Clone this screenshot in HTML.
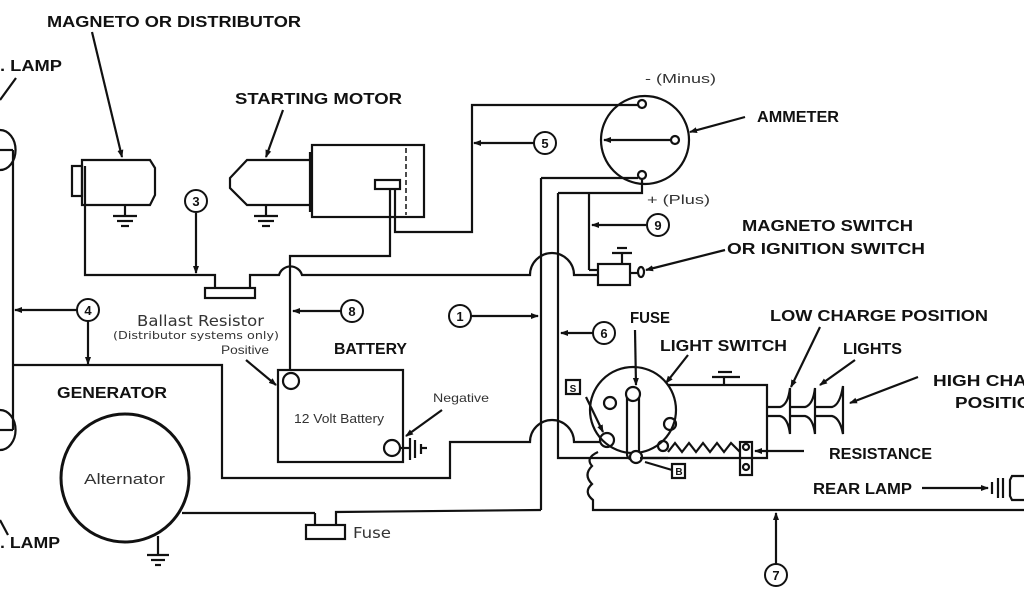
<!DOCTYPE html>
<html><head><meta charset="utf-8"><style>
html,body{margin:0;padding:0;background:#fff;width:1024px;height:600px;overflow:hidden}
svg{display:block}
.b{font-family:"Liberation Sans",sans-serif;font-weight:bold;font-size:16px;fill:#111}
.r{font-family:"Liberation Sans",sans-serif;font-size:13px;fill:#333}
.d{font-family:"DejaVu Sans",sans-serif;font-size:13px;fill:#333}
.n{font-family:"Liberation Sans",sans-serif;font-weight:bold;font-size:13px;fill:#111;text-anchor:middle}
</style></head><body>
<svg width="1024" height="600" viewBox="0 0 1024 600" xmlns="http://www.w3.org/2000/svg">
<defs><marker id="a" markerWidth="8" markerHeight="8" refX="7" refY="4" orient="auto" markerUnits="userSpaceOnUse"><path d="M0,1 L8,4 L0,7z" fill="#111"/></marker></defs>
<g stroke="#111" stroke-width="2.2" fill="none">
<path d="M0,130 A14,18 0 0 1 0,170"/><path d="M0,410 A14,18 0 0 1 0,450"/>
<line x1="13" y1="150" x2="13" y2="430"/><line x1="0" y1="150" x2="13" y2="150"/><line x1="0" y1="430" x2="13" y2="430"/>
<line x1="0" y1="100" x2="16" y2="78"/><line x1="0" y1="520" x2="8" y2="535"/>
<path d="M82,160 L150,160 L155,168 L155,195 L150,205 L82,205 Z"/><rect x="72" y="166" width="10" height="30"/>
<line x1="92" y1="32" x2="122" y2="157" marker-end="url(#a)"/>
<line x1="125" y1="205" x2="125" y2="216"/><line x1="113" y1="216" x2="137" y2="216"/><line x1="117" y1="221" x2="133" y2="221"/><line x1="121" y1="226" x2="129" y2="226"/>
<path d="M310,160 L247,160 L230,178 L230,188 L247,205 L310,205"/><rect x="312" y="145" width="112" height="72"/><line x1="310" y1="152" x2="310" y2="212"/>
<line x1="406" y1="148" x2="406" y2="215" stroke-dasharray="5,3" stroke-width="1.5"/>
<rect x="375" y="180" width="25" height="9"/>
<line x1="283" y1="110" x2="266" y2="157" marker-end="url(#a)"/>
<line x1="266" y1="205" x2="266" y2="216"/><line x1="254" y1="216" x2="278" y2="216"/><line x1="258" y1="221" x2="274" y2="221"/><line x1="262" y1="226" x2="270" y2="226"/>
<path d="M85,166 L85,275 L215,275 L215,288"/><rect x="205" y="288" width="50" height="10"/>
<path d="M250,288 L250,275 L279,275 A12,12 0 0 1 302,275 L530,275 A22,22 0 0 1 574,275 L598,275"/>
<path d="M390,189 L390,256 L290,256 L290,370"/>
<path d="M395,189 L395,232 L472,232 L472,105 L640,105"/>
<line x1="534" y1="143" x2="474" y2="143" marker-end="url(#a)"/>
<circle cx="645" cy="140" r="44"/>
<circle cx="642" cy="104" r="4" fill="#fff"/><circle cx="675" cy="140" r="4" fill="#fff"/><circle cx="642" cy="175" r="4" fill="#fff"/>
<line x1="671" y1="140" x2="604" y2="140" marker-end="url(#a)"/>
<line x1="745" y1="117" x2="690" y2="132" marker-end="url(#a)"/>
<path d="M541,178 L638,178"/><path d="M541,178 L541,510"/>
<path d="M558,193 L642,193 L642,179"/><path d="M558,193 L558,458 L668,458"/>
<line x1="589" y1="193" x2="589" y2="270"/><line x1="589" y1="270" x2="598" y2="270"/>
<line x1="646" y1="225" x2="592" y2="225" marker-end="url(#a)"/>
<rect x="598" y="264" width="32" height="21"/><line x1="630" y1="273" x2="638" y2="273"/><ellipse cx="641" cy="272" rx="3" ry="5"/>
<line x1="622" y1="264" x2="622" y2="253"/><line x1="612" y1="253" x2="632" y2="253"/><line x1="617" y1="248" x2="627" y2="248"/>
<line x1="725" y1="250" x2="646" y2="270" marker-end="url(#a)"/>
<line x1="196" y1="213" x2="196" y2="273" marker-end="url(#a)"/>
<line x1="341" y1="311" x2="293" y2="311" marker-end="url(#a)"/>
<line x1="471" y1="316" x2="538" y2="316" marker-end="url(#a)"/>
<line x1="593" y1="333" x2="561" y2="333" marker-end="url(#a)"/>
<line x1="77" y1="310" x2="15" y2="310" marker-end="url(#a)"/>
<line x1="88" y1="321" x2="88" y2="364" marker-end="url(#a)"/>
<path d="M13,365 L222,365 L222,478 L450,478 L450,442 L530,442 A22,22 0 0 1 574,442 L600,442"/>
<rect x="278" y="370" width="125" height="92"/>
<circle cx="291" cy="381" r="8" fill="#fff"/><circle cx="392" cy="448" r="8" fill="#fff"/>
<line x1="400" y1="448" x2="410" y2="448"/><line x1="410" y1="438" x2="410" y2="460"/><line x1="415" y1="440" x2="415" y2="458"/><line x1="421" y1="444" x2="421" y2="454"/><line x1="421" y1="448" x2="427" y2="448"/>
<line x1="246" y1="360" x2="276" y2="385" marker-end="url(#a)"/>
<line x1="442" y1="410" x2="406" y2="436" marker-end="url(#a)"/>
<circle cx="125" cy="478" r="64" stroke-width="3"/>
<line x1="182" y1="513" x2="315" y2="513"/><path d="M315,513 L315,525 M336,525 L336,512 L541,510"/>
<rect x="306" y="525" width="39" height="14"/>
<line x1="158" y1="536" x2="158" y2="555"/><line x1="147" y1="555" x2="169" y2="555"/><line x1="151" y1="560" x2="165" y2="560"/><line x1="155" y1="565" x2="161" y2="565"/>
<circle cx="633" cy="410" r="43"/>
<rect x="627" y="388" width="12" height="72" rx="6"/><circle cx="633" cy="394" r="7" fill="#fff"/><circle cx="636" cy="457" r="6" fill="#fff"/>
<circle cx="610" cy="403" r="6"/><circle cx="670" cy="424" r="6"/><circle cx="607" cy="440" r="7"/><circle cx="663" cy="446" r="5"/>
<path d="M668,385 L767,385 L767,458 L640,458"/>
<line x1="724" y1="385" x2="724" y2="377"/><line x1="712" y1="377" x2="740" y2="377"/><line x1="718" y1="372" x2="732" y2="372"/>
<path d="M668,452 L675,443 L682,452 L689,443 L696,452 L703,443 L710,452 L717,443 L724,452 L731,443 L740,452"/>
<rect x="740" y="442" width="12" height="33"/><circle cx="746" cy="447" r="3"/><circle cx="746" cy="467" r="3"/>
<line x1="804" y1="451" x2="755" y2="451" marker-end="url(#a)"/>
<path d="M767,407 L780,407 Q788,405 790,388 L790,434 Q788,418 780,416 L767,416"/>
<path d="M790,407 L805,407 Q813,405 815,388 L815,434 Q813,418 805,416 L790,416"/>
<path d="M815,407 L832,407 Q840,405 843,386 L843,434 Q840,418 832,416 L815,416"/>
<line x1="820" y1="327" x2="791" y2="387" marker-end="url(#a)"/>
<line x1="855" y1="360" x2="820" y2="385" marker-end="url(#a)"/>
<line x1="918" y1="377" x2="850" y2="403" marker-end="url(#a)"/>
<line x1="635" y1="330" x2="636" y2="385" marker-end="url(#a)"/>
<line x1="688" y1="355" x2="666" y2="383" marker-end="url(#a)"/>
<line x1="586" y1="397" x2="603" y2="432" marker-end="url(#a)"/>
<line x1="645" y1="462" x2="672" y2="470"/>
<rect x="672" y="464" width="13" height="14"/>
<rect x="566" y="380" width="14" height="14"/>
<path d="M598,452 Q585,458 592,466 Q583,475 592,484 Q583,492 593,500 L593,510 L1024,510"/>
<line x1="776" y1="565" x2="776" y2="513" marker-end="url(#a)"/>
<line x1="922" y1="488" x2="988" y2="488" marker-end="url(#a)"/>
<line x1="992" y1="482" x2="992" y2="494"/><line x1="998" y1="478" x2="998" y2="498"/><line x1="1003" y1="478" x2="1003" y2="498"/><path d="M1024,476 L1012,476 L1010,480 L1010,496 L1012,500 L1024,500"/>
</g>
<g stroke="#111" stroke-width="2" fill="#fff">
<circle cx="196" cy="201" r="11"/><circle cx="88" cy="310" r="11"/><circle cx="352" cy="311" r="11"/><circle cx="460" cy="316" r="11"/>
<circle cx="545" cy="143" r="11"/><circle cx="658" cy="225" r="11"/><circle cx="604" cy="333" r="11"/><circle cx="776" cy="575" r="11"/>
</g>
<g class="n">
<text x="196" y="206">3</text><text x="88" y="315">4</text><text x="352" y="316">8</text><text x="460" y="321">1</text>
<text x="545" y="148">5</text><text x="658" y="230">9</text><text x="604" y="338">6</text><text x="776" y="580">7</text>
<text x="573" y="392" style="font-size:10px">S</text><text x="679" y="475" style="font-size:10px">B</text>
</g>
<text class="b" x="47" y="27" textLength="254" lengthAdjust="spacingAndGlyphs">MAGNETO OR DISTRIBUTOR</text>
<text class="b" x="0" y="71" textLength="62" lengthAdjust="spacingAndGlyphs">. LAMP</text>
<text class="b" x="235" y="104" textLength="167" lengthAdjust="spacingAndGlyphs">STARTING MOTOR</text>
<text class="b" x="757" y="122" textLength="82" lengthAdjust="spacingAndGlyphs">AMMETER</text>
<text class="b" x="742" y="231" textLength="171" lengthAdjust="spacingAndGlyphs">MAGNETO SWITCH</text>
<text class="b" x="727" y="254" textLength="198" lengthAdjust="spacingAndGlyphs">OR IGNITION SWITCH</text>
<text class="b" x="334" y="354" textLength="73" lengthAdjust="spacingAndGlyphs">BATTERY</text>
<text class="b" x="57" y="398" textLength="110" lengthAdjust="spacingAndGlyphs">GENERATOR</text>
<text class="b" x="0" y="548" textLength="60" lengthAdjust="spacingAndGlyphs">. LAMP</text>
<text class="b" x="630" y="323" textLength="40" lengthAdjust="spacingAndGlyphs">FUSE</text>
<text class="b" x="660" y="351" textLength="127" lengthAdjust="spacingAndGlyphs">LIGHT SWITCH</text>
<text class="b" x="770" y="321" textLength="218" lengthAdjust="spacingAndGlyphs">LOW CHARGE POSITION</text>
<text class="b" x="843" y="354" textLength="59" lengthAdjust="spacingAndGlyphs">LIGHTS</text>
<text class="b" x="933" y="386" textLength="135" lengthAdjust="spacingAndGlyphs">HIGH CHARGE</text>
<text class="b" x="955" y="408" textLength="90" lengthAdjust="spacingAndGlyphs">POSITION</text>
<text class="b" x="829" y="459" textLength="103" lengthAdjust="spacingAndGlyphs">RESISTANCE</text>
<text class="b" x="813" y="494" textLength="99" lengthAdjust="spacingAndGlyphs">REAR LAMP</text>
<text class="r" x="645" y="83" textLength="71" lengthAdjust="spacingAndGlyphs">- (Minus)</text>
<text class="r" x="647" y="204" textLength="63" lengthAdjust="spacingAndGlyphs">+ (Plus)</text>
<text class="d" x="137" y="326" style="font-size:15px" textLength="127" lengthAdjust="spacingAndGlyphs">Ballast Resistor</text>
<text class="d" x="113" y="339" style="font-size:11px" textLength="166" lengthAdjust="spacingAndGlyphs">(Distributor systems only)</text>
<text class="r" x="221" y="354" style="font-size:12px" textLength="48" lengthAdjust="spacingAndGlyphs">Positive</text>
<text class="r" x="433" y="402" style="font-size:12px" textLength="56" lengthAdjust="spacingAndGlyphs">Negative</text>
<text class="r" x="294" y="423" textLength="90" lengthAdjust="spacingAndGlyphs">12 Volt Battery</text>
<text class="r" x="84" y="484" style="font-size:15px" textLength="81" lengthAdjust="spacingAndGlyphs">Alternator</text>
<text class="d" x="353" y="538" style="font-size:15px" textLength="38" lengthAdjust="spacingAndGlyphs">Fuse</text>
</svg>
</body></html>
